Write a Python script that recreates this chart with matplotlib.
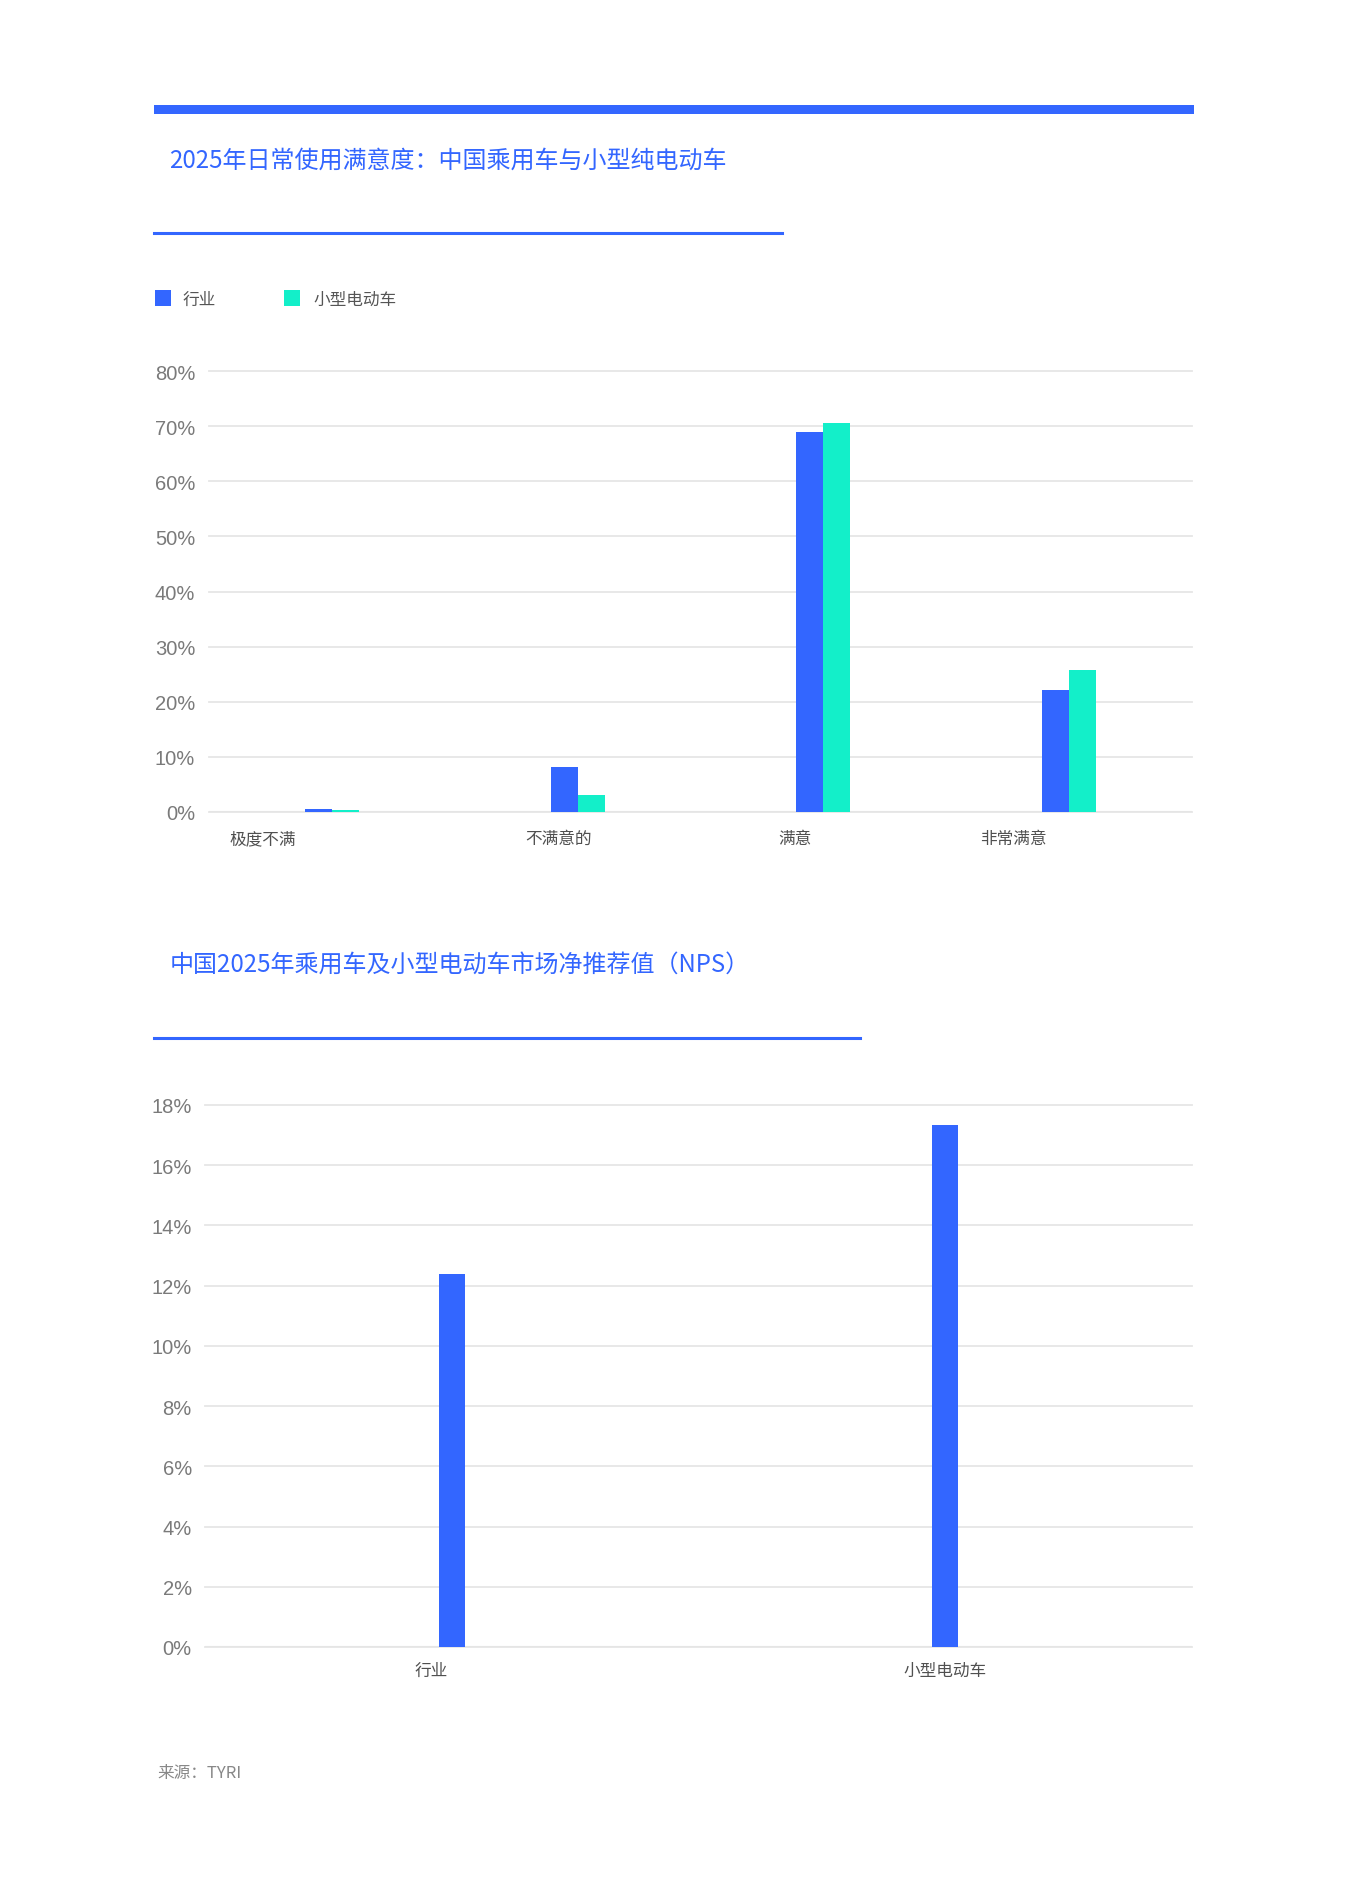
import matplotlib
matplotlib.use('Agg')
import matplotlib.pyplot as plt
from matplotlib.patches import Rectangle
from matplotlib.lines import Line2D
import numpy as np

plt.rcParams['font.family'] = ['Noto Sans CJK SC', 'DejaVu Sans']

# 数据
categories = ['极度不满', '不满意的', '满意', '非常满意']
industry = [0.6, 8.1, 69.0, 22.2]
small_ev = [0.4, 3.1, 70.6, 25.8]
series_names = ['行业', '小型电动车']

nps_labels = ['行业', '小型电动车']
nps_values = [12.4, 17.35]

title1 = '2025年日常使用满意度：中国乘用车与小型纯电动车'
title2 = '中国2025年乘用车及小型电动车市场净推荐值（NPS）'
source = '来源：TYRI'

BLUE = '#3366FF'
TEAL = '#13EFC9'
GRID = '#e6e6e6'
W, H = 1346, 1890

fig = plt.figure(figsize=(W / 100, H / 100), dpi=100)


def fx(px):
    return px / W


def fy(py):
    return 1 - py / H


def rect(x0, y0, x1, y1):
    # pixel box -> figure fractions
    return [fx(x0), fy(y1), fx(x1) - fx(x0), fy(y0) - fy(y1)]


# 顶部粗线和标题
fig.add_artist(Rectangle((fx(154), fy(114.5)), fx(1194) - fx(154), fy(106) - fy(114.5),
                         color=BLUE, transform=fig.transFigure, lw=0))
fig.text(fx(169), fy(161), title1, color=BLUE, fontsize=17.3, va='center')
fig.add_artist(Line2D([fx(154), fx(782)], [fy(234), fy(234)], color=BLUE, lw=2.2,
                      transform=fig.transFigure))

# 图例
fig.add_artist(Rectangle((fx(155), fy(307)), fx(16), fy(0) - fy(16), color=BLUE,
                         transform=fig.transFigure, lw=0))
fig.text(fx(183), fy(300), series_names[0], color='#555555', fontsize=12, va='center')
fig.add_artist(Rectangle((fx(284), fy(307)), fx(16), fy(0) - fy(16), color=TEAL,
                         transform=fig.transFigure, lw=0))
fig.text(fx(313), fy(300), series_names[1], color='#555555', fontsize=12, va='center')


def style_axis(ax, ymax, step, pad):
    ax.set_ylim(0, ymax)
    ax.set_yticks(np.arange(0, ymax + step / 2, step))
    ax.set_yticklabels(['%d%%' % v for v in np.arange(0, ymax + step / 2, step)],
                       fontfamily='Liberation Sans', fontsize=14.5, color='#7a7a7a')
    ax.tick_params(axis='y', length=0, pad=pad)
    ax.tick_params(axis='x', length=0, labelsize=12, labelcolor='#505050')
    for s in ax.spines.values():
        s.set_visible(False)
    ax.yaxis.grid(True, color=GRID, lw=1.3, clip_on=False)
    ax.set_axisbelow(True)
    ax.axhline(0, color='#dddddd', lw=1.5, zorder=0)


# 图一
ax1 = fig.add_axes(rect(209, 372, 1192, 813))
x = np.arange(len(categories))
w = 0.11
ax1.bar(x - w / 2, industry, w, color=BLUE, zorder=2)
ax1.bar(x + w / 2, small_ev, w, color=TEAL, zorder=2)
ax1.set_xlim(-0.5, len(categories) - 0.5)
style_axis(ax1, 80, 10, 10)
ax1.set_xticks([-0.28, 0.924, 1.884, 2.774])
ax1.set_xticklabels(categories)
ax1.tick_params(axis='x', pad=13)

# 图二标题
fig.text(fx(170), fy(965), title2, color=BLUE, fontsize=17.3, va='center')
fig.add_artist(Line2D([fx(154), fx(860)], [fy(1039), fy(1039)], color=BLUE, lw=2.2,
                      transform=fig.transFigure))

# 图二
ax2 = fig.add_axes(rect(205, 1106, 1192, 1648))
x2 = np.arange(len(nps_labels))
ax2.bar(x2, nps_values, 0.053, color=BLUE, zorder=2)
ax2.set_xlim(-0.5, len(nps_labels) - 0.5)
style_axis(ax2, 18, 2, 9.5)
ax2.set_xticks([-0.042, 1.0])
ax2.set_xticklabels(nps_labels)
ax2.tick_params(axis='x', pad=11)

fig.text(fx(157), fy(1774), source, color='#888888', fontsize=12, va='center')

fig.savefig('out.png', dpi=100, facecolor='white')
